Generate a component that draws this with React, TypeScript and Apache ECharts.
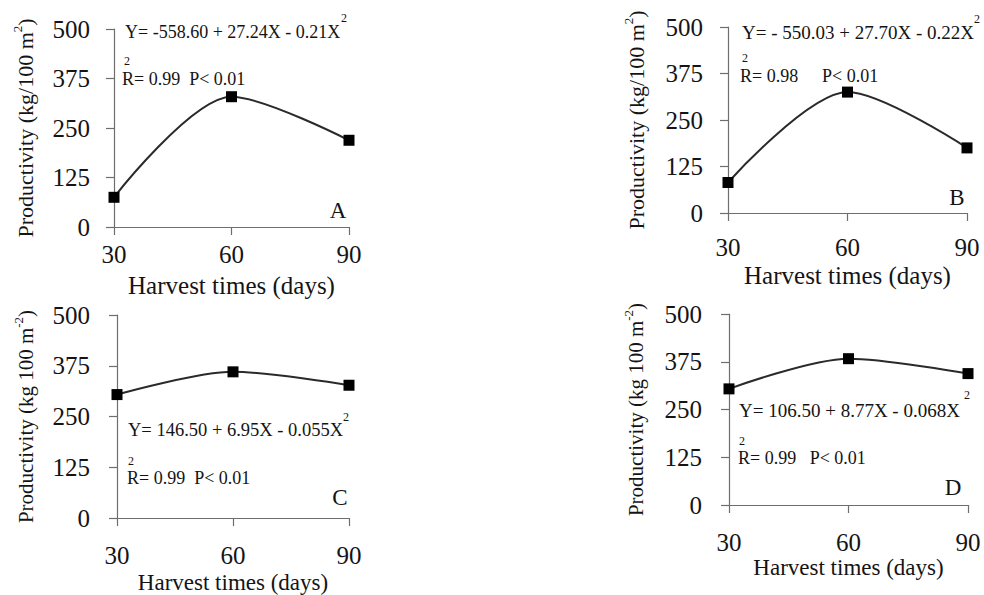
import React, { useEffect, useRef } from "react";
import * as echarts from "echarts";

// ---- data ----
const harvestDays = [30, 60, 90];
const productivityA = [75, 329, 219];
const productivityB = [82, 325, 175];
const productivityC = [304, 360, 327];
const productivityD = [304, 383, 344];
const yMin = 0;
const yMax = 500;
const yStep = 125;
const xMin = 30;
const xMax = 90;
const xStep = 30;
const xAxisTitle = "Harvest times (days)";
const yTitleTop = "Productivity (kg/100 m{s|2})";
const yTitleBottom = "Productivity (kg 100 m{s|-2})";
const panelLetters = ["A", "B", "C", "D"];
const equations = [
  "Y= -558.60 + 27.24X - 0.21X",
  "Y= - 550.03 + 27.70X - 0.22X",
  "Y= 146.50 + 6.95X - 0.055X",
  "Y= 106.50 + 8.77X - 0.068X",
];
const r2Texts = ["R= 0.99  P< 0.01", "R= 0.98", "R= 0.99  P< 0.01", "R= 0.99   P< 0.01"];

const SERIF = "Liberation Serif";
const TXT = "#141414";
const AXIS = "#6e6e6e";

type Panel = {
  values: number[];
  grid: { left: number; top: number; width: number; height: number };
  yTitle: string;
  yTitleSize: number;
  yNameGap: number;
  yLabelMargin: number;
  xLabelMargin: number;
  xNameGap: number;
  xNameSize: number;
};

const panels: Panel[] = [
  { values: productivityA, grid: { left: 114, top: 29, width: 235, height: 198 }, yTitle: yTitleTop, yTitleSize: 22, yNameGap: 75, yLabelMargin: 24, xLabelMargin: 15, xNameGap: 46, xNameSize: 25 },
  { values: productivityB, grid: { left: 728, top: 27, width: 239, height: 186 }, yTitle: yTitleTop, yTitleSize: 22, yNameGap: 78, yLabelMargin: 25, xLabelMargin: 22, xNameGap: 50, xNameSize: 25 },
  { values: productivityC, grid: { left: 117, top: 315, width: 232, height: 203 }, yTitle: yTitleBottom, yTitleSize: 21, yNameGap: 77, yLabelMargin: 27, xLabelMargin: 25, xNameGap: 53, xNameSize: 23 },
  { values: productivityD, grid: { left: 729, top: 314, width: 239, height: 191 }, yTitle: yTitleBottom, yTitleSize: 21, yNameGap: 79, yLabelMargin: 27, xLabelMargin: 25, xNameGap: 51, xNameSize: 23 },
];

// annotation placement (pixels)
const eqPos = [
  { x: 125, y: 32, size: 18, sx: 344, sy: 18 },
  { x: 742, y: 32, size: 19, sx: 977, sy: 19 },
  { x: 128, y: 430, size: 18.5, sx: 346, sy: 417 },
  { x: 739, y: 410, size: 19, sx: 967, sy: 395 },
];
const r2Pos = [
  { x: 122, y: 79, sx: 127, sy: 61 },
  { x: 740, y: 76, sx: 745, sy: 58 },
  { x: 127, y: 478, sx: 131, sy: 461 },
  { x: 738, y: 458, sx: 742, sy: 441 },
];
const letterPos = [
  { x: 338, y: 210 },
  { x: 957, y: 197 },
  { x: 340, y: 497 },
  { x: 953, y: 487 },
];

function txt(text: string, x: number, y: number, size: number, align = "left") {
  return {
    type: "text",
    x,
    y,
    silent: true,
    style: {
      text,
      fontFamily: SERIF,
      fontSize: size,
      fill: TXT,
      align,
      verticalAlign: "middle",
    },
  };
}

export default function App() {
  const ref = useRef<HTMLDivElement>(null);

  useEffect(() => {
    if (!ref.current) return;
    const chart = echarts.init(ref.current, undefined, { renderer: "svg" });

    const graphics: any[] = [];
    panels.forEach((_, i) => {
      graphics.push(txt(equations[i], eqPos[i].x, eqPos[i].y, eqPos[i].size));
      graphics.push(txt("2", eqPos[i].sx, eqPos[i].sy, 12, "center"));
      graphics.push(txt(r2Texts[i], r2Pos[i].x, r2Pos[i].y, 18));
      graphics.push(txt("2", r2Pos[i].sx, r2Pos[i].sy, 12, "center"));
      graphics.push(txt(panelLetters[i], letterPos[i].x, letterPos[i].y, 23, "center"));
    });
    graphics.push(txt("P< 0.01", 822, 76, 18));

    const option: any = {
      animation: false,
      backgroundColor: "#ffffff",
      textStyle: { fontFamily: SERIF },
      grid: panels.map((p) => ({ ...p.grid, containLabel: false })),
      xAxis: panels.map((p, i) => ({
        type: "value",
        gridIndex: i,
        min: xMin,
        max: xMax,
        interval: xStep,
        name: xAxisTitle,
        nameLocation: "middle",
        nameGap: p.xNameGap,
        nameTextStyle: { fontFamily: SERIF, fontSize: p.xNameSize, color: TXT },
        axisLine: { show: true, onZero: false, lineStyle: { color: AXIS, width: 1.2 } },
        axisTick: { show: true, length: 8, inside: false, lineStyle: { color: AXIS, width: 1.2 } },
        axisLabel: { fontFamily: SERIF, fontSize: 25, color: TXT, margin: p.xLabelMargin },
        splitLine: { show: false },
      })),
      yAxis: panels.map((p, i) => ({
        type: "value",
        gridIndex: i,
        min: yMin,
        max: yMax,
        interval: yStep,
        name: p.yTitle,
        nameLocation: "middle",
        nameRotate: 90,
        nameGap: p.yNameGap,
        nameTextStyle: {
          fontFamily: SERIF,
          fontSize: p.yTitleSize,
          color: TXT,
          lineHeight: 28,
          rich: {
            s: { fontFamily: SERIF, fontSize: 13, color: TXT, verticalAlign: "top", lineHeight: 13 },
          },
        },
        axisLine: { show: true, lineStyle: { color: AXIS, width: 1.2 } },
        axisTick: { show: true, length: 8, inside: false, lineStyle: { color: AXIS, width: 1.2 } },
        axisLabel: { fontFamily: SERIF, fontSize: 25, color: TXT, margin: p.yLabelMargin },
        splitLine: { show: false },
      })),
      series: panels.map((p, i) => ({
        type: "line",
        xAxisIndex: i,
        yAxisIndex: i,
        data: harvestDays.map((d, k) => [d, p.values[k]]),
        smooth: 0.3,
        symbol: "rect",
        symbolSize: 11,
        itemStyle: { color: "#000000" },
        lineStyle: { color: "#2a2a2a", width: 2 },
        emphasis: { disabled: true },
        z: 3,
      })),
      graphic: graphics,
    };

    chart.setOption(option);
    return () => chart.dispose();
  }, []);

  return (
    <div
      ref={ref}
      style={{ position: "fixed", left: 0, top: 0, width: 984, height: 595, background: "#fff" }}
    />
  );
}
